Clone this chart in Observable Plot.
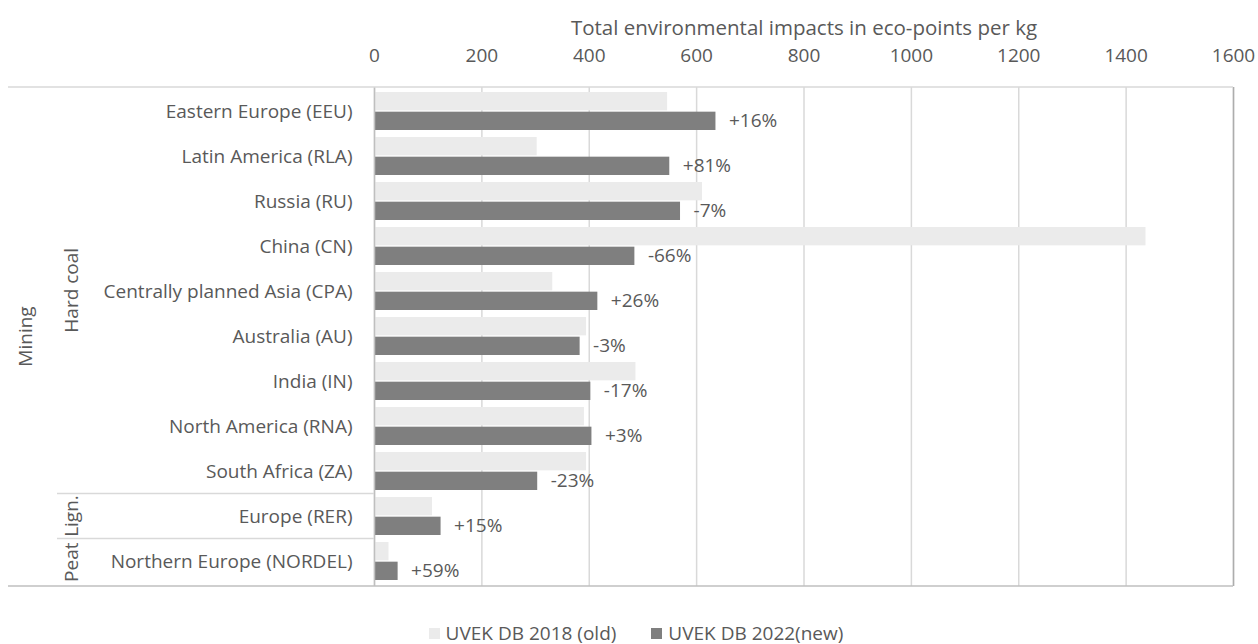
<!DOCTYPE html>
<html>
<head>
<meta charset="utf-8">
<script src="https://cdn.jsdelivr.net/npm/d3@7"></script>
<script src="https://cdn.jsdelivr.net/npm/@observablehq/plot@0.6"></script>
<style>
  html, body { margin: 0; background: #fff; }
  body { font-family: "Open Sans", sans-serif; color: #595959; width: 1258px; }
  #legend { display: flex; justify-content: center; align-items: center; gap: 35px;
            font-size: 19px; line-height: 24px; margin-top: 21px; padding-left: 14px; }
  #legend .item { display: flex; align-items: center; gap: 6px; }
  #legend .swatch { width: 11px; height: 11px; display: inline-block; }
</style>
</head>
<body>
<div id="chart"></div>
<div id="legend"></div>
<script>
// Regions (top to bottom), their fuel type and the common activity
const regions = [
  "Eastern Europe (EEU)", "Latin America (RLA)", "Russia (RU)", "China (CN)",
  "Centrally planned Asia (CPA)", "Australia (AU)", "India (IN)",
  "North America (RNA)", "South Africa (ZA)", "Europe (RER)", "Northern Europe (NORDEL)"
];
const fuelTypes = [
  "Hard coal", "Hard coal", "Hard coal", "Hard coal", "Hard coal", "Hard coal",
  "Hard coal", "Hard coal", "Hard coal", "Lign.", "Peat"
];
const activity = "Mining";

// Eco-points per kg
const oldValues = [546, 303, 611, 1437, 332, 395, 487, 391, 395, 108, 27];
const newValues = [636, 550, 570, 485, 416, 383, 403, 405, 304, 124, 44];
const changeLabels = ["+16%", "+81%", "-7%", "-66%", "+26%", "-3%", "-17%", "+3%", "-23%", "+15%", "+59%"];

const seriesNames = ["UVEK DB 2018 (old)", "UVEK DB 2022(new)"];
const xTicks = [0, 200, 400, 600, 800, 1000, 1200, 1400, 1600];
const xTitle = "Total environmental impacts in eco-points per kg";

const colorOld = "#EBEBEB";
const colorNew = "#7F7F7F";
const textColor = "#595959";

const rows = regions.map((region, i) => ({
  region, fuel: fuelTypes[i], old: oldValues[i], neu: newValues[i], label: changeLabels[i]
}));

const W = 1258, H = 600;
const mTop = 87, mBottom = 14, mLeft = 374, mRight = 25;
const step = (H - mTop - mBottom) / regions.length;
const padInner = 0.155;
const bandwidth = step * (1 - padInner);
const half = bandwidth / 2;
const fontSize = 19;

const plot = Plot.plot({
  width: W,
  height: H,
  marginTop: mTop,
  marginBottom: mBottom,
  marginLeft: mLeft,
  marginRight: mRight,
  style: { fontFamily: "'Open Sans', sans-serif", fontSize: `${fontSize}px`, color: textColor, background: "#fff" },
  x: { domain: [0, 1600] },
  y: { domain: regions, paddingInner: padInner, paddingOuter: padInner / 2 },
  marks: [
    Plot.gridX(xTicks, { stroke: "#D9D9D9", strokeOpacity: 1, strokeWidth: 1.5 }),
    Plot.barX(rows, { y: "region", x: "old", fill: colorOld, insetBottom: half + 0.5 }),
    Plot.barX(rows, { y: "region", x: "neu", fill: colorNew, insetTop: half + 0.5 }),
    Plot.text(rows, { y: "region", x: "neu", text: "label", textAnchor: "start", dx: 13, dy: half / 2, fill: textColor, fontSize }),
    Plot.ruleX([0], { stroke: "#BFBFBF", strokeWidth: 1.5 }),
    Plot.ruleX([1600], { stroke: "#ADADAD", strokeWidth: 1.5 }),
    Plot.axisX(xTicks, {
      anchor: "top", tickSize: 0, tickPadding: 26, fontSize, tickFormat: d3.format("d"),
      label: null
    }),
    Plot.text([xTitle], { frameAnchor: "top", lineAnchor: "middle", dy: -59, fontSize: 20.5, fill: textColor }),
    Plot.axisY({ anchor: "left", tickSize: 0, tickPadding: 22, fontSize, label: null })
  ]
});

document.getElementById("chart").appendChild(plot);

// Category table on the left: borders, group separators and rotated group names
const svg = d3.select(plot);
const yScale = plot.scale("y");
const bandTop = (i) => yScale.apply(regions[i]) - (yScale.step - yScale.bandwidth) / 2;
const frameTop = mTop, frameBottom = H - mBottom, frameRight = W - mRight;

const deco = svg.append("g").attr("stroke-width", 1.5);
deco.append("line").attr("x1", 8).attr("x2", frameRight).attr("y1", frameTop).attr("y2", frameTop).attr("stroke", "#D9D9D9");
deco.append("line").attr("x1", 8).attr("x2", frameRight).attr("y1", frameBottom).attr("y2", frameBottom).attr("stroke", "#BFBFBF");

// runs of identical fuel type
const runs = [];
fuelTypes.forEach((f, i) => {
  if (runs.length && runs[runs.length - 1].name === f) runs[runs.length - 1].end = i;
  else runs.push({ name: f, start: i, end: i });
});
const runTop = (r) => r.start === 0 ? frameTop : bandTop(r.start);
const runBottom = (r) => r.end === regions.length - 1 ? frameBottom : bandTop(r.end + 1);

runs.slice(1).forEach((r) => {
  const y = runTop(r);
  deco.append("line").attr("x1", 57).attr("x2", mLeft).attr("y1", y).attr("y2", y).attr("stroke", "#D9D9D9");
});

const labels = svg.append("g")
  .attr("fill", textColor)
  .attr("font-family", "'Open Sans', sans-serif")
  .attr("font-size", fontSize)
  .attr("text-anchor", "middle");

runs.forEach((r) => {
  const cy = (runTop(r) + runBottom(r)) / 2;
  labels.append("text")
    .attr("transform", `translate(71,${cy}) rotate(-90)`)
    .attr("dy", "0.35em")
    .text(r.name);
});
labels.append("text")
  .attr("transform", `translate(25,${(frameTop + frameBottom) / 2}) rotate(-90)`)
  .attr("dy", "0.35em")
  .text(activity);

// Legend
const legend = d3.select("#legend");
[colorOld, colorNew].forEach((c, i) => {
  const item = legend.append("div").attr("class", "item");
  item.append("span").attr("class", "swatch").style("background", c);
  item.append("span").text(seriesNames[i]);
});
</script>
</body>
</html>
